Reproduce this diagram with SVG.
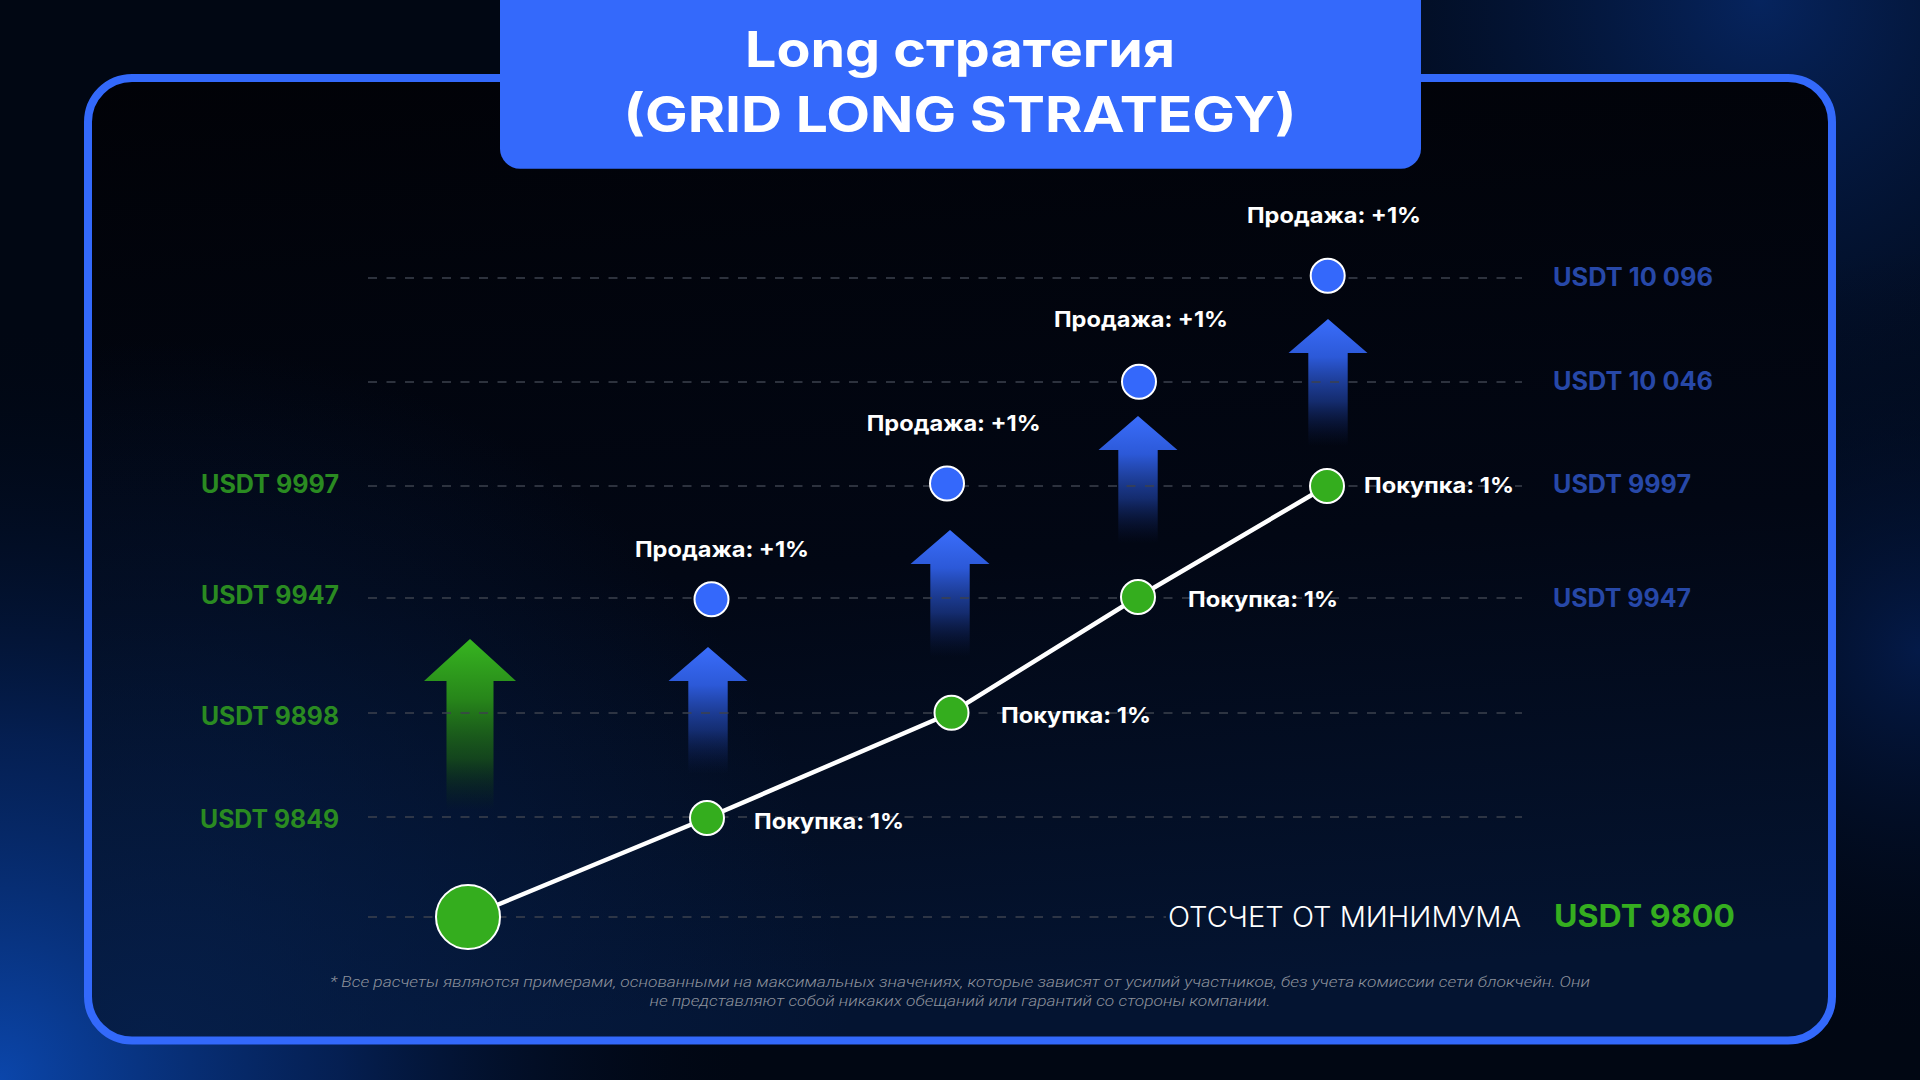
<svg xmlns="http://www.w3.org/2000/svg" width="1920" height="1080" viewBox="0 0 1920 1080">
<style>
.t{font-family:Inter,"Open Sans","Noto Sans",sans-serif;font-weight:700}
.title{fill:#ffffff;font-size:50px}
.lbl{fill:#ffffff;font-size:22px}
.gl{fill:#2a8b21;font-size:25px}
.bl{fill:#2748a8;font-size:25px}
.min{font-family:Inter,"Open Sans",sans-serif;font-weight:300;font-size:28px;fill:#ffffff}
.zero{fill:#35ae1f;font-size:31px}
.note{font-family:Roboto,"Noto Sans",sans-serif;font-weight:300;font-style:italic;font-size:15.5px;fill:#8d929c}
.grid{stroke:#3c414d;stroke-width:1.5;stroke-dasharray:9 9.5;fill:none}
.gn{fill:#34ad1e;stroke:#ffffff;stroke-width:2}
.bn{fill:#3468fb;stroke:#ffffff;stroke-width:2}
</style>
<defs>
<radialGradient id="glowBL" cx="0" cy="1080" r="760" gradientUnits="userSpaceOnUse">
<stop offset="0" stop-color="#0b46ab"/>
<stop offset="0.45" stop-color="#06296c" stop-opacity="0.7"/>
<stop offset="1" stop-color="#010713" stop-opacity="0"/>
</radialGradient>
<radialGradient id="glowTR" cx="1760" cy="0" r="700" gradientUnits="userSpaceOnUse">
<stop offset="0" stop-color="#06245e"/>
<stop offset="1" stop-color="#010713" stop-opacity="0"/>
</radialGradient>
<radialGradient id="glowR" cx="1920" cy="650" r="400" gradientUnits="userSpaceOnUse">
<stop offset="0" stop-color="#041a48"/>
<stop offset="1" stop-color="#010713" stop-opacity="0"/>
</radialGradient>
<linearGradient id="inner" x1="0" y1="0" x2="0.12" y2="1">
<stop offset="0" stop-color="#010207"/>
<stop offset="0.55" stop-color="#020714"/>
<stop offset="1" stop-color="#041431"/>
</linearGradient>
<radialGradient id="innerGlow" cx="150" cy="1040" r="700" gradientUnits="userSpaceOnUse">
<stop offset="0" stop-color="#06214f" stop-opacity="0.8"/>
<stop offset="1" stop-color="#06214f" stop-opacity="0"/>
</radialGradient>
<linearGradient id="blueArrow" x1="0" y1="0" x2="0" y2="1">
<stop offset="0" stop-color="#3a6dfb"/>
<stop offset="0.3" stop-color="#2c59d8"/>
<stop offset="0.65" stop-color="#1c3c96" stop-opacity="0.7"/>
<stop offset="1" stop-color="#0c1c50" stop-opacity="0"/>
</linearGradient>
<linearGradient id="greenArrow" x1="0" y1="0" x2="0" y2="1">
<stop offset="0" stop-color="#37b520"/>
<stop offset="0.35" stop-color="#27861a"/>
<stop offset="0.7" stop-color="#1a5a16" stop-opacity="0.7"/>
<stop offset="1" stop-color="#0c2a10" stop-opacity="0"/>
</linearGradient>
<path id="barrow" d="M0,0 L39.5,34 L19.7,34 L19.7,127 L-19.7,127 L-19.7,34 L-39.5,34 Z" fill="url(#blueArrow)"/>
</defs>

<g id="background">
<rect x="0" y="0" width="1920" height="1080" fill="#010713"/>
<rect x="0" y="0" width="1920" height="1080" fill="url(#glowTR)"/>
<rect x="0" y="0" width="1920" height="1080" fill="url(#glowR)"/>
<rect x="0" y="0" width="1920" height="1080" fill="url(#glowBL)"/>
</g>

<g id="frame">
<rect x="88" y="78" width="1744" height="962.5" rx="44" fill="url(#inner)"/>
<rect x="88" y="78" width="1744" height="962.5" rx="44" fill="url(#innerGlow)"/>
<rect x="88" y="78" width="1744" height="962.5" rx="44" fill="none" stroke="#3369fb" stroke-width="8"/>
</g>

<g id="title">
<rect x="500" y="-30" width="921" height="198.7" rx="20" fill="#3469fb"/>
<text class="t title" x="960" y="66.7" text-anchor="middle" textLength="430" lengthAdjust="spacingAndGlyphs">Long стратегия</text>
<text class="t title" x="960" y="131.7" text-anchor="middle" textLength="673" lengthAdjust="spacingAndGlyphs">(GRID LONG STRATEGY)</text>
</g>

<g id="arrows">
<use href="#barrow" x="708" y="647"/>
<use href="#barrow" x="950" y="530"/>
<use href="#barrow" x="1138" y="416"/>
<use href="#barrow" x="1328" y="319"/>
<path id="green-arrow" d="M470,639 L516,681 L493.5,681 L493.5,810 L446.5,810 L446.5,681 L424,681 Z" fill="url(#greenArrow)"/>
</g>

<g id="grid">
<line class="grid" x1="368" y1="278" x2="1522" y2="278"/>
<line class="grid" x1="368" y1="382" x2="1522" y2="382"/>
<line class="grid" x1="368" y1="486" x2="1522" y2="486"/>
<line class="grid" x1="368" y1="598" x2="1522" y2="598"/>
<line class="grid" x1="368" y1="713" x2="1522" y2="713"/>
<line class="grid" x1="368" y1="817" x2="1522" y2="817"/>
<line class="grid" x1="368" y1="917" x2="1166" y2="917"/>
</g>

<g id="axis-labels">
<text class="t gl" x="339" y="493.3" text-anchor="end" textLength="138" lengthAdjust="spacingAndGlyphs">USDT 9997</text>
<text class="t gl" x="339" y="604" text-anchor="end" textLength="138" lengthAdjust="spacingAndGlyphs">USDT 9947</text>
<text class="t gl" x="339" y="725" text-anchor="end" textLength="138" lengthAdjust="spacingAndGlyphs">USDT 9898</text>
<text class="t gl" x="339" y="828" text-anchor="end" textLength="139" lengthAdjust="spacingAndGlyphs">USDT 9849</text>
<text class="t bl" x="1553" y="286" textLength="160" lengthAdjust="spacingAndGlyphs">USDT 10 096</text>
<text class="t bl" x="1553" y="390" textLength="160" lengthAdjust="spacingAndGlyphs">USDT 10 046</text>
<text class="t bl" x="1553" y="493.3" textLength="138" lengthAdjust="spacingAndGlyphs">USDT 9997</text>
<text class="t bl" x="1553" y="606.7" textLength="138" lengthAdjust="spacingAndGlyphs">USDT 9947</text>
<text class="min" x="1168" y="926.7" textLength="353" lengthAdjust="spacingAndGlyphs">ОТСЧЕТ ОТ МИНИМУМА</text>
<text class="t zero" x="1554" y="926.7" textLength="181" lengthAdjust="spacingAndGlyphs">USDT 9800</text>
</g>

<g id="connectors">
<polyline points="468,917 707,818 951.5,712.7 1138,597 1327,486" fill="none" stroke="#ffffff" stroke-width="4.5" stroke-linejoin="round"/>
</g>

<g id="start-node"><circle class="gn" cx="468" cy="917" r="32" stroke-width="3"/></g>

<g id="buy-1"><circle class="gn" cx="707" cy="818" r="17"/>
<text class="t lbl" x="754" y="829" textLength="150" lengthAdjust="spacingAndGlyphs">Покупка: 1%</text></g>
<g id="buy-2"><circle class="gn" cx="951.5" cy="712.7" r="17"/>
<text class="t lbl" x="1001" y="722.7" textLength="150" lengthAdjust="spacingAndGlyphs">Покупка: 1%</text></g>
<g id="buy-3"><circle class="gn" cx="1138" cy="597" r="17"/>
<text class="t lbl" x="1188" y="606.7" textLength="150" lengthAdjust="spacingAndGlyphs">Покупка: 1%</text></g>
<g id="buy-4"><circle class="gn" cx="1327" cy="486" r="17"/>
<text class="t lbl" x="1364" y="493.3" textLength="150" lengthAdjust="spacingAndGlyphs">Покупка: 1%</text></g>

<g id="sell-1"><circle class="bn" cx="711.5" cy="599.3" r="17"/>
<text class="t lbl" x="722" y="556.7" text-anchor="middle" textLength="174" lengthAdjust="spacingAndGlyphs">Продажа: +1%</text></g>
<g id="sell-2"><circle class="bn" cx="947" cy="483.5" r="17"/>
<text class="t lbl" x="953.7" y="430.7" text-anchor="middle" textLength="174" lengthAdjust="spacingAndGlyphs">Продажа: +1%</text></g>
<g id="sell-3"><circle class="bn" cx="1139" cy="381.7" r="17"/>
<text class="t lbl" x="1141" y="326.7" text-anchor="middle" textLength="174" lengthAdjust="spacingAndGlyphs">Продажа: +1%</text></g>
<g id="sell-4"><circle class="bn" cx="1327.7" cy="275.7" r="17"/>
<text class="t lbl" x="1334" y="223.3" text-anchor="middle" textLength="174" lengthAdjust="spacingAndGlyphs">Продажа: +1%</text></g>

<g id="footnote">
<text class="note" x="960" y="986.7" text-anchor="middle" textLength="1260" lengthAdjust="spacingAndGlyphs">* Все расчеты являются примерами, основанными на максимальных значениях, которые зависят от усилий участников, без учета комиссии сети блокчейн. Они</text>
<text class="note" x="960" y="1005.7" text-anchor="middle" textLength="621" lengthAdjust="spacingAndGlyphs">не представляют собой никаких обещаний или гарантий со стороны компании.</text>
</g>
</svg>
